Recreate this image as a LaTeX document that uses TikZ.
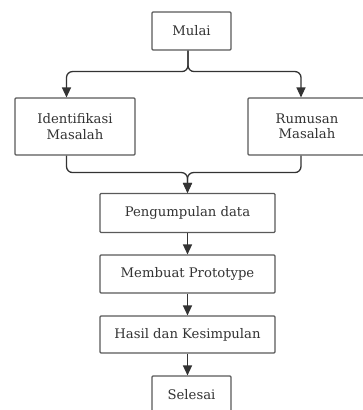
\documentclass[tikz,border=0pt]{standalone}
\usepackage{fontspec}
\setmainfont{DejaVu Serif}
\usetikzlibrary{arrows.meta}

\begin{document}
\begin{tikzpicture}[x=1pt,y=1pt,
    kotak/.style={draw=black!65,line width=1.1pt,rounded corners=1pt,fill=white,
      inner sep=0pt,align=center,font=\fontsize{13.2}{15.5}\selectfont,text=black!80},
    alur/.style={draw=black!80,line width=1.3pt,rounded corners=6pt,
      -{Triangle[length=10pt,width=9pt]}}]
      \useasboundingbox (0,0) rectangle (362,410);

      \node[kotak,minimum width=79,minimum height=38] (mulai) at (191.5,379) {Mulai};
      \node[kotak,minimum width=120,minimum height=57] (identifikasi) at (75,283.5) {Identifikasi\\Masalah};
      \node[kotak,minimum width=118,minimum height=57] (rumusan) at (307,283.5) {Rumusan\\Masalah};
      \node[kotak,minimum width=175,minimum height=39] (pengumpulan) at (187.5,197) {Pengumpulan data};
      \node[kotak,minimum width=175,minimum height=38] (prototype) at (187.5,136) {Membuat Prototype};
      \node[kotak,minimum width=175,minimum height=37] (hasil) at (187.5,75.5) {Hasil dan Kesimpulan};
      \node[kotak,minimum width=79,minimum height=38] (selesai) at (191.5,15) {Selesai};

      \draw[alur] ([xshift=-3.5]mulai.south) -- ++(0,-21) -| ([xshift=-8.5]identifikasi.north);
      \draw[alur] ([xshift=-3.5]mulai.south) -- ++(0,-21) -| ([xshift=-6]rumusan.north);

      \draw[alur] ([xshift=-8.5]identifikasi.south) -- ++(0,-17) -| (pengumpulan.north);
      \draw[alur] ([xshift=-6]rumusan.south) -- ++(0,-17) -| (pengumpulan.north);

      \draw[alur] (pengumpulan) -- (prototype);
      \draw[alur] (prototype) -- (hasil);
      \draw[alur] (hasil.south) -- (hasil.south |- selesai.north);
   \end{tikzpicture}
\end{document}
